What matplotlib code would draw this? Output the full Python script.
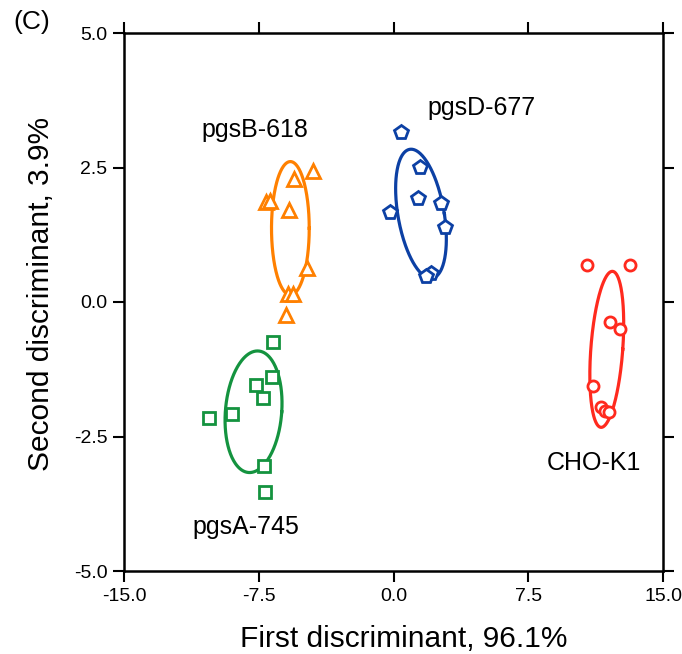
import numpy as np
import matplotlib
matplotlib.use("Agg")
import matplotlib.pyplot as plt

plt.rcParams['font.family'] = ['Liberation Sans', 'DejaVu Sans']

# ---- data ----
groups = ["pgsA-745", "pgsB-618", "pgsD-677", "CHO-K1"]

pgsA_x = [-6.68, -6.79, -7.68, -7.24, -9.01, -10.29, -7.18, -7.13]
pgsA_y = [-0.74, -1.39, -1.54, -1.78, -2.08, -2.16, -3.05, -3.53]

pgsB_x = [-4.46, -5.52, -7.07, -6.85, -5.80, -4.80, -5.85, -5.57, -5.96]
pgsB_y = [2.43, 2.29, 1.86, 1.88, 1.71, 0.63, 0.15, 0.15, -0.24]

pgsD_x = [0.42, 1.47, 1.36, -0.19, 2.63, 2.86, 2.08, 1.80]
pgsD_y = [3.16, 2.51, 1.93, 1.67, 1.84, 1.39, 0.54, 0.48]

cho_x = [10.79, 13.17, 12.06, 12.62, 11.12, 11.56, 11.78, 12.01]
cho_y = [0.69, 0.69, -0.37, -0.50, -1.56, -1.95, -2.03, -2.04]

# ellipse parameters: centre x, centre y, half width, half height, x-shift of top
ell_cx = [-7.79, -5.74, 1.53, 11.87]
ell_cy = [-2.04, 1.37, 1.64, -0.88]
ell_rx = [1.57, 1.05, 1.30, 0.89]
ell_ry = [1.13, 1.24, 1.20, 1.45]
ell_shift = [0.22, 0.0, -0.55, 0.31]

label_x = [-8.24, -7.74, 4.91, 11.18]
label_y = [-4.18, 3.20, 3.61, -2.99]

xticks = [-15.0, -7.5, 0.0, 7.5, 15.0]
yticks = [-5.0, -2.5, 0.0, 2.5, 5.0]

colors = ['#14933F', '#FF8000', '#0C40A4', '#FF2A1E']
markers = ['s', '^', 'p', 'o']
msizes = [9, 10, 10, 8]

xs = [pgsA_x, pgsB_x, pgsD_x, cho_x]
ys = [pgsA_y, pgsB_y, pgsD_y, cho_y]

fig = plt.figure(figsize=(6.82, 6.54), dpi=100)
ax = fig.add_axes([124/682, 1-571/654, (663-124)/682, (571-33)/654])

t = np.linspace(0, 2*np.pi, 300)
for i in range(4):
    ex = ell_cx[i] + ell_rx[i]*np.cos(t) + ell_shift[i]*np.sin(t)
    ey = ell_cy[i] + ell_ry[i]*np.sin(t)
    ax.plot(ex, ey, color=colors[i], lw=2.3, zorder=2)
    ax.plot(xs[i], ys[i], linestyle='none', marker=markers[i], ms=msizes[i],
            mfc='white', mec=colors[i], mew=2.0, zorder=3)
    ax.text(label_x[i], label_y[i], groups[i], ha='center', va='center', fontsize=18)

ax.set_xlim(-15, 15)
ax.set_ylim(-5, 5)
ax.set_xticks(xticks)
ax.set_yticks(yticks)
ax.set_xticklabels([f"{v:.1f}" for v in xticks])
ax.set_yticklabels([f"{v:.1f}" for v in yticks])
ax.tick_params(axis='both', which='both', direction='out', length=8, width=1.5,
               labelsize=14, top=True, right=True, labeltop=False, labelright=False)
ax.tick_params(axis='y', pad=4)
ax.tick_params(axis='x', pad=4)
for s in ax.spines.values():
    s.set_linewidth(1.8)

ax.set_xlabel("First discriminant, 96.1%", fontsize=21.5)
ax.set_ylabel("Second discriminant, 3.9%", fontsize=21.5)
ax.xaxis.set_label_coords(0.519, -0.100)
ax.yaxis.set_label_coords(-0.128, 0.515)

fig.text(13/682, 1-22/654, "(C)", fontsize=19, ha='left', va='center')

fig.savefig("out.png", dpi=100)
